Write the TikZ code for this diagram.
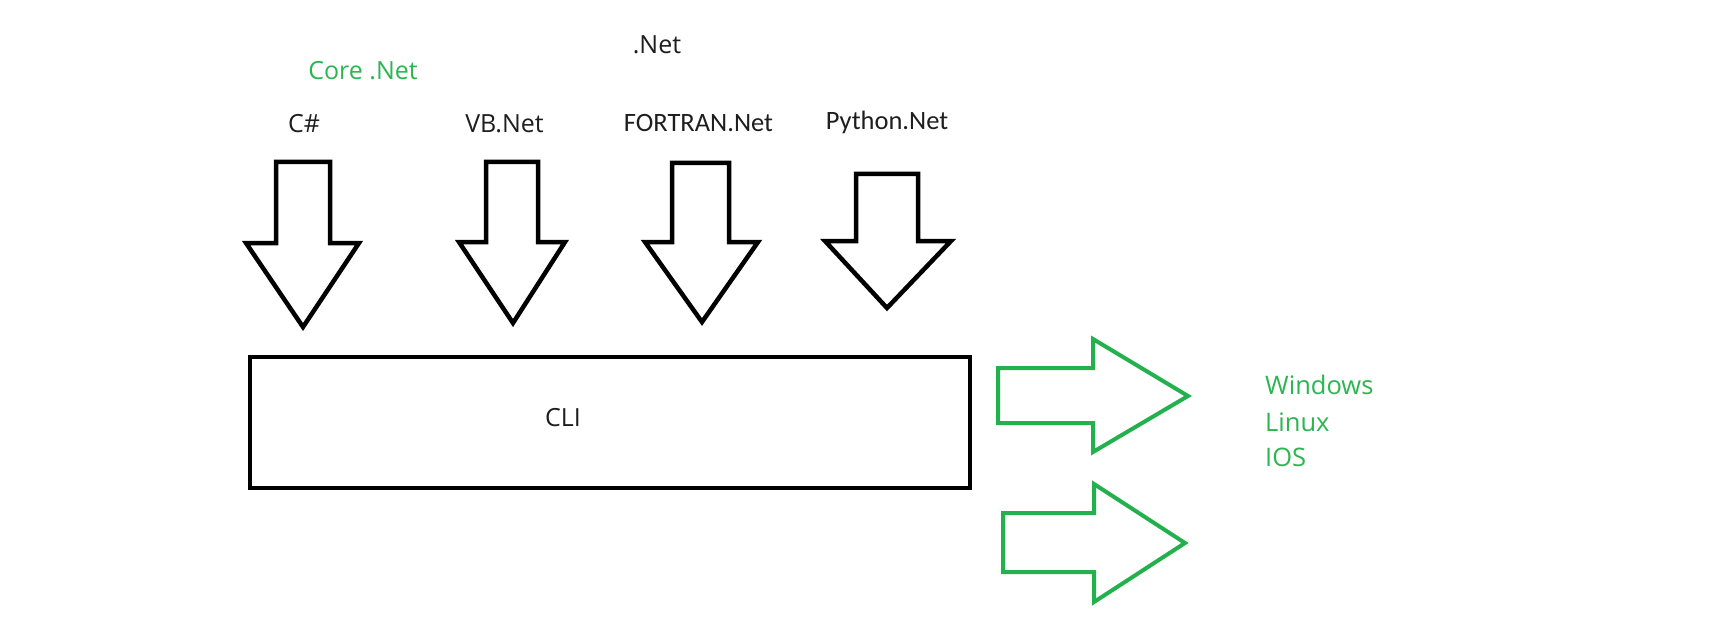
\documentclass[tikz,border=0pt]{standalone}
\usepackage{fontspec}
\setmainfont{Open Sans}
\newfontfamily\calfont{Carlito}
\definecolor{pgreen}{HTML}{22B14C}
\definecolor{tgreen}{HTML}{2DB552}
\definecolor{tblack}{HTML}{1E1E1E}
\newcommand{\blockdown}[8]{% shaftL shaftR top headY headL headR tipX tipY
  \draw[blackarrow] (#1,#3) -- (#2,#3) -- (#2,#4) -- (#6,#4) -- (#7,#8) -- (#5,#4) -- (#1,#4) -- cycle;}
\newcommand{\blockright}[7]{% shaftL shaftT shaftB headX headT headB tip(x,y)
  \draw[greenarrow] (#1,#2) -- (#4,#2) -- (#4,#5) -- #7 -- (#4,#6) -- (#4,#3) -- (#1,#3) -- cycle;}
\begin{document}
\begin{tikzpicture}[x=1bp,y=-1bp,
  blackarrow/.style={draw=black,line width=4.5bp,line join=miter},
  greenarrow/.style={draw=pgreen,line width=4bp,line join=miter},
  lbl/.style={inner sep=0pt,anchor=base,text=tblack,font=\fontsize{25bp}{28bp}\selectfont},
  clbl/.style={inner sep=0pt,anchor=base,text=tblack,font=\calfont\fontsize{26.5bp}{28bp}\selectfont},
  glbl/.style={inner sep=0pt,anchor=base,text=tgreen,font=\fontsize{25bp}{28bp}\selectfont},
  oslbl/.style={inner sep=0pt,anchor=base west,text=tgreen,font=\fontsize{25.5bp}{28bp}\selectfont}]
\useasboundingbox[fill=white] (0,0) rectangle (1714,622);
% labels
\node[lbl]  (net)    at (657,54)  {.Net};
\node[glbl] (core)   at (363,80)  {Core .Net};
\node[lbl]  (cs)     at (304,133) {C\#};
\node[lbl]  (vb)     at (504.5,133) {VB.Net};
\node[clbl] (fort)   at (698.5,132) {FORTRAN.Net};
\node[clbl] (py)     at (887,130) {Python.Net};
% down arrows
\blockdown{276}{330}{162}{243}{246}{359}{303}{327}
\blockdown{486}{538}{162}{242}{459}{565}{513}{323}
\blockdown{672}{729}{163}{242}{645}{758}{702}{322}
\blockdown{856}{918}{174}{241}{825}{951}{887}{308}
% CLI box
\draw[line width=4.5bp] (250,357) rectangle (970,488);
\node[lbl] (cli) at (563,426) {CLI};
% green arrows
\blockright{998}{368}{423}{1093}{339}{452}{(1188,396)}
\blockright{1003}{513}{572}{1094}{484}{602}{(1185,543)}
% OS list
\node[oslbl] (win) at (1265,394) {Windows};
\node[oslbl] (lin) at (1265,431) {Linux};
\node[oslbl] (ios) at (1265,466) {IOS};
\end{tikzpicture}
\end{document}
